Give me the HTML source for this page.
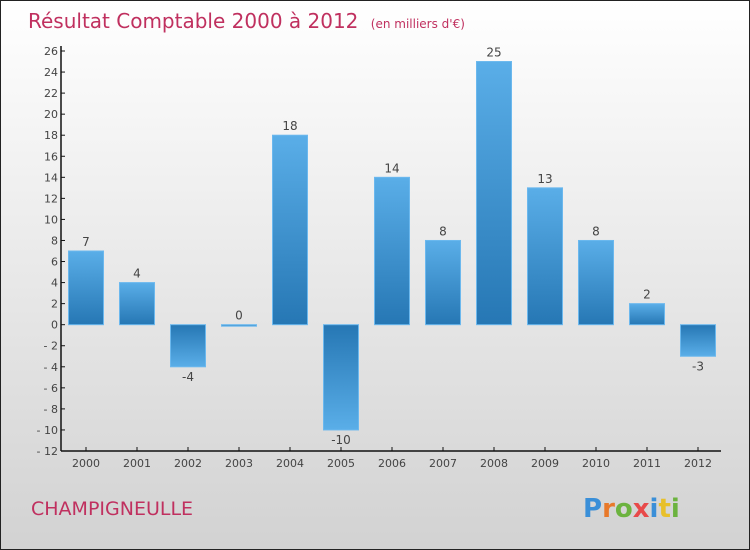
<!DOCTYPE html>
<html><head><meta charset="utf-8"><style>
body{margin:0}
#c{width:750px;height:550px;position:relative;box-sizing:border-box;border:1px solid #222;background:linear-gradient(#ffffff,#d2d2d2);font-family:"DejaVu Sans","Liberation Sans",sans-serif;overflow:hidden}
</style></head><body>
<div id="c">
<svg width="750" height="550" id="s">
<defs>
<linearGradient id="gp" x1="0" y1="0" x2="0" y2="1"><stop offset="0" stop-color="#5aaee8"/><stop offset="1" stop-color="#2677b4"/></linearGradient>
<linearGradient id="gn" x1="0" y1="0" x2="0" y2="1"><stop offset="0" stop-color="#2677b4"/><stop offset="1" stop-color="#5aaee8"/></linearGradient>
</defs>
<text x="27" y="27" font-size="20" fill="#c0305f">Résultat Comptable 2000 à 2012 <tspan font-size="12" dx="6">(en milliers d'€)</tspan></text>
<text x="30" y="514" font-size="19" fill="#c0305f">CHAMPIGNEULLE</text>
<text x="582" y="516" font-size="26" font-weight="bold"><tspan fill="#3a8fd8">P</tspan><tspan fill="#e8792a">r</tspan><tspan fill="#6cb33f">o</tspan><tspan fill="#e84a4a">x</tspan><tspan fill="#3a8fd8">i</tspan><tspan fill="#e8c02a">t</tspan><tspan fill="#6cb33f">i</tspan></text>
<g id="g"></g>
</svg></div>
<script>
const categories=["2000","2001","2002","2003","2004","2005","2006","2007","2008","2009","2010","2011","2012"];
const values=[7,4,-4,0,18,-10,14,8,25,13,8,2,-3];
const yTicks=[26,24,22,20,18,16,14,12,10,8,6,4,2,0,-2,-4,-6,-8,-10,-12];
const ns="http://www.w3.org/2000/svg",g=document.getElementById('g');
const yMin=-12,yMax=26,plotTop=50,plotBot=450,plotLeft=60,x0=85,step=51,bw=35;
const y=v=>plotTop+(yMax-v)/(yMax-yMin)*(plotBot-plotTop);
const x=i=>x0+i*step;
function mk(t,a){const e=document.createElementNS(ns,t);for(const k in a)e.setAttribute(k,a[k]);g.appendChild(e);return e;}
values.forEach((v,i)=>{
  const y1=y(Math.max(v,0)),y2=y(Math.min(v,0));
  const r=mk('rect',{x:x(i)-bw/2,y:y1,width:bw,height:Math.max(y2-y1,1.5),fill:v>=0?'url(#gp)':'url(#gn)',stroke:'#6bb8ee','stroke-width':1});
  
  
  const t=mk('text',{x:x(i),y:v>=0?y1-5:y2+14,'text-anchor':'middle','font-size':12,fill:'#444'});
  t.textContent=String(v);
  
  
  const tk=mk('line',{x1:x(i),x2:x(i),y1:plotBot-4,y2:plotBot,stroke:'#111'});
  
  
  const xl=mk('text',{x:x(i),y:plotBot+16,'text-anchor':'middle','font-size':11,fill:'#444'});
  xl.textContent=categories[i];
  
  
});
yTicks.forEach(v=>{
  const l=mk('line',{x1:plotLeft,x2:plotLeft+4,y1:y(v),y2:y(v),stroke:'#111'});
  
  
  const t=mk('text',{x:plotLeft-3,y:y(v)+4,'text-anchor':'end','font-size':11,fill:'#444'});
  t.textContent=v<0?'- '+(-v):String(v);
  
  
});
const ya=mk('line',{x1:plotLeft,x2:plotLeft,y1:plotTop-5,y2:plotBot,stroke:'#111','stroke-width':1.5});


const xa=mk('line',{x1:plotLeft,x2:720,y1:plotBot,y2:plotBot,stroke:'#111','stroke-width':1.5});


</script>
</body></html>
